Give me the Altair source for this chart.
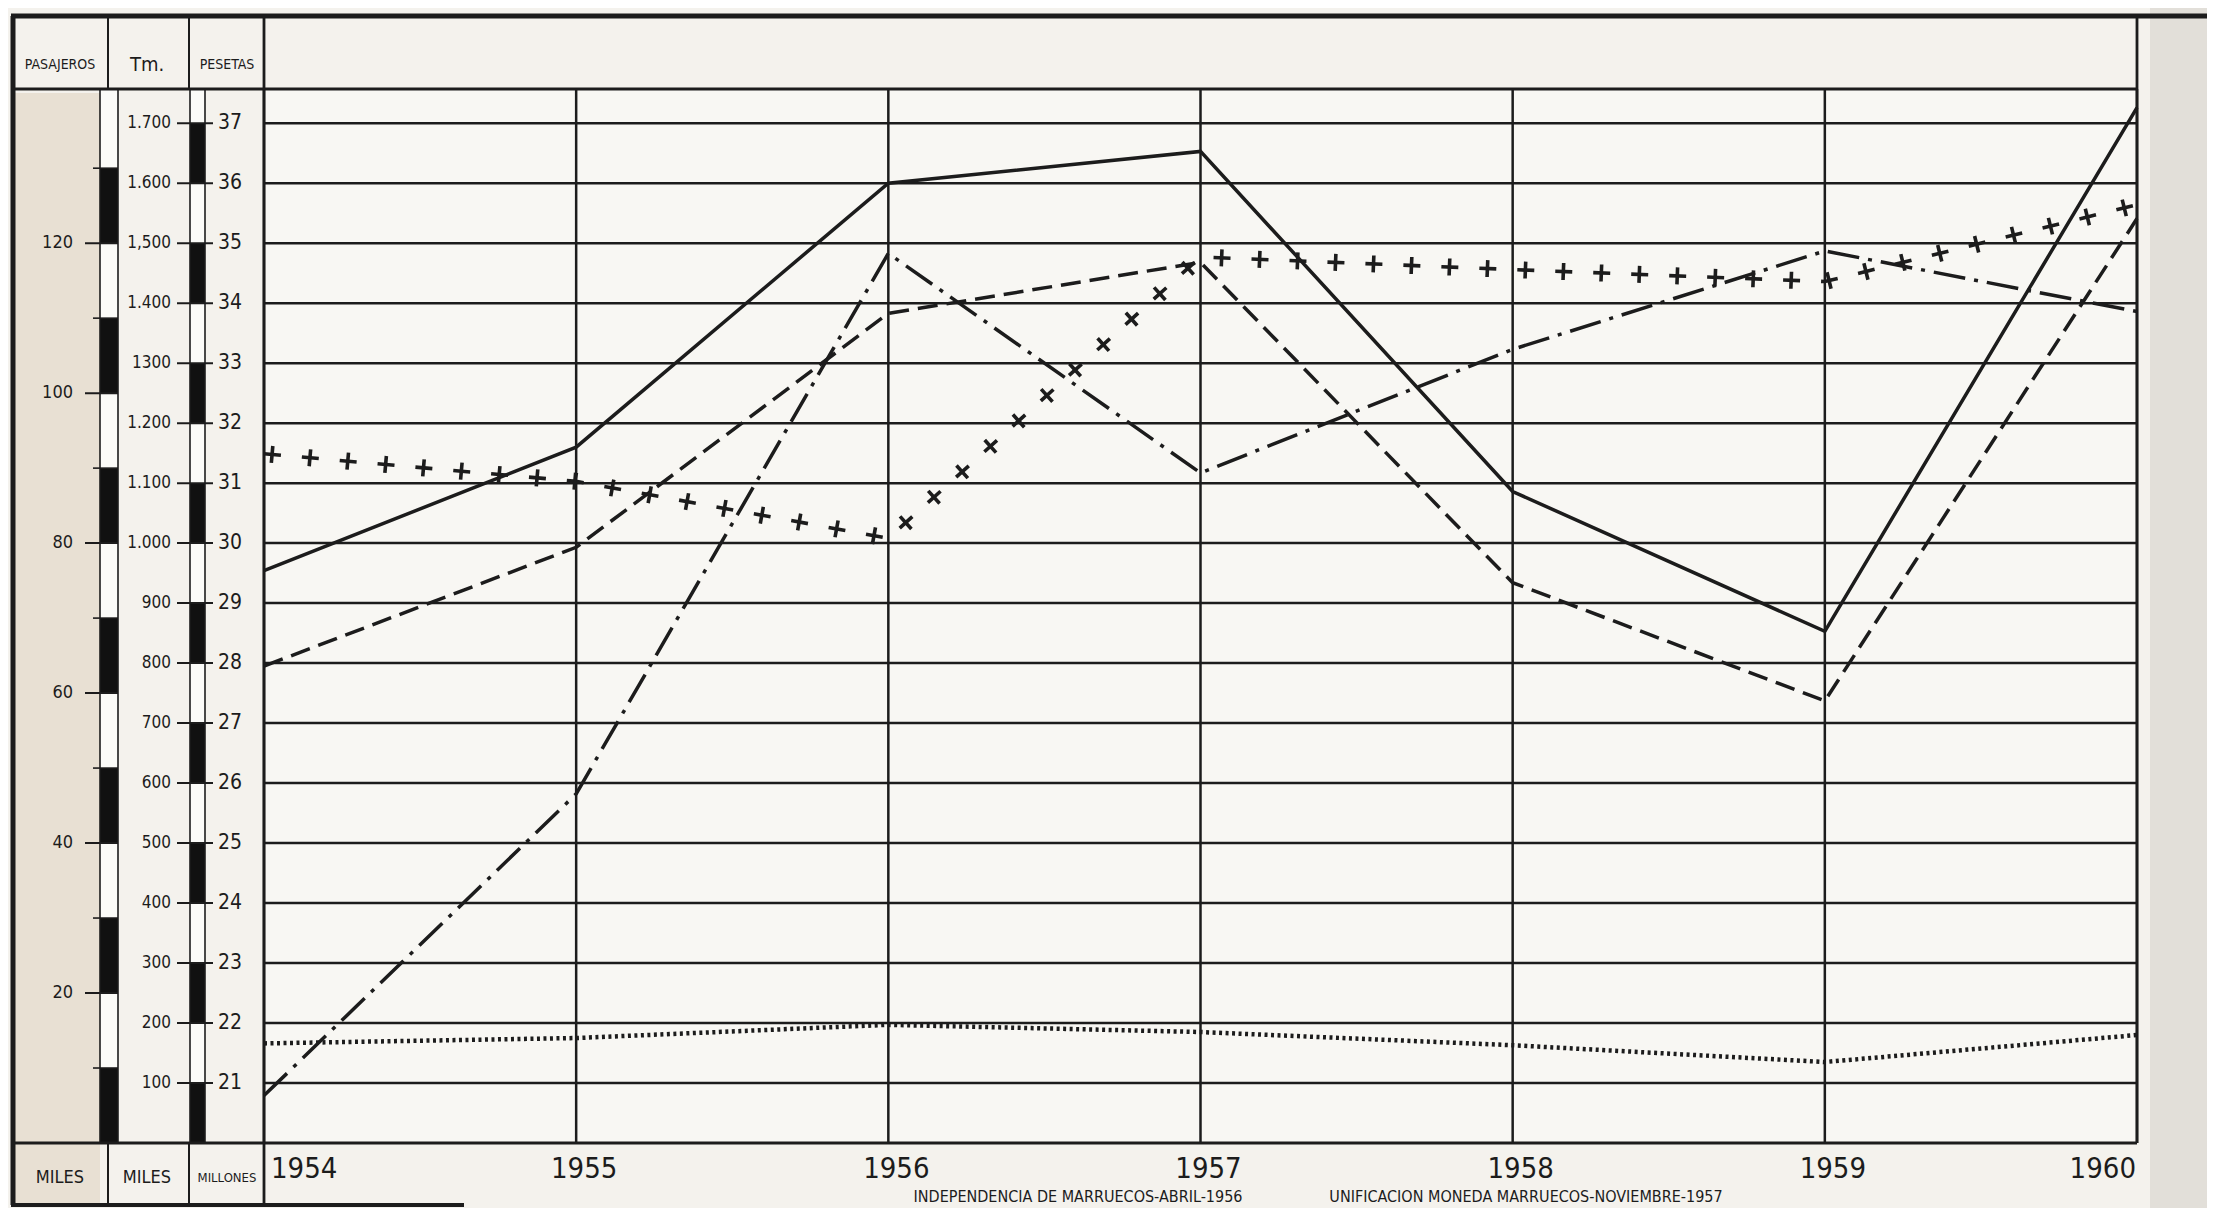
import altair as alt
import pandas as pd

# ---------------- data ----------------
years = [1954, 1955, 1956, 1957, 1958, 1959, 1960]
serie_continua = [954, 1160, 1600, 1653, 1086, 853, 1726]
serie_trazos = [795, 993, 1383, 1468, 934, 737, 1541]
serie_trazo_punto = [79, 582, 1483, 1117, 1323, 1487, 1386]
serie_cruces = [1149, 1103, 1008, 1477, 1456, 1436, 1564]
serie_punteada = [166, 175, 197, 185, 163, 135, 180]

tm_ticks = [100, 200, 300, 400, 500, 600, 700, 800, 900, 1000,
            1100, 1200, 1300, 1400, 1500, 1600, 1700]
tm_labels = ["100", "200", "300", "400", "500", "600", "700", "800", "900",
             "1.000", "1.100", "1.200", "1300", "1.400", "1,500", "1.600", "1.700"]
pas_ticks = [20, 40, 60, 80, 100, 120]
pas_minor = [10, 30, 50, 70, 90, 110, 130]
pts_ticks = [21, 22, 23, 24, 25, 26, 27, 28, 29, 30, 31, 32, 33, 34, 35, 36, 37]
pas_black_lo = [0, 20, 40, 60, 80, 100, 120]
pts_black_lo = [20, 22, 24, 26, 28, 30, 32, 34, 36]
year_labels = ["1954", "1955", "1956", "1957", "1958", "1959", "1960"]

# ---------------- tables ----------------
series_names = ["continua", "trazos", "trazo_punto", "cruces", "punteada"]
series_vals = [serie_continua, serie_trazos, serie_trazo_punto, serie_cruces, serie_punteada]
rows = []
for name, vals in zip(series_names, series_vals):
    for yr, v in zip(years, vals):
        rows.append({"year": yr, "valor": v, "serie": name})
df = pd.DataFrame(rows)

df_tm = pd.DataFrame({"tm": tm_ticks, "lab": tm_labels})
df_pas = pd.DataFrame({"p": pas_ticks, "lab": [str(v) for v in pas_ticks]})
df_pas_minor = pd.DataFrame({"p": pas_minor})
df_pts = pd.DataFrame({"s": pts_ticks, "lab": [str(v) for v in pts_ticks]})
df_pas_black = pd.DataFrame({"lo": pas_black_lo, "hi": [v + 10 for v in pas_black_lo]})
df_pts_black = pd.DataFrame({"lo": pts_black_lo, "hi": [v + 1 for v in pts_black_lo]})
df_years = pd.DataFrame({"year": years, "lab": year_labels})
one = pd.DataFrame({"a": [0]})

# ---------------- layout ----------------
W, H = 1873, 1054
TOP_T = 1757
INK = "#1c1c1c"
FONT = "DejaVu Sans Condensed, Liberation Sans Narrow, DejaVu Sans, sans-serif"

x_scale = alt.Scale(domain=[1954, 1960], nice=False, zero=False)
tm_scale = alt.Scale(domain=[0, TOP_T], nice=False, zero=False)
pas_scale = alt.Scale(domain=[0, TOP_T / 12.5], nice=False, zero=False)
pts_scale = alt.Scale(domain=[20, 20 + TOP_T / 100], nice=False, zero=False)

X = alt.X("year:Q", scale=x_scale, axis=None)


def rect(x1, x2, y1, y2, color):
    return alt.Chart(one).mark_rect(color=color).encode(
        x=alt.value(x1), x2=alt.value(x2), y=alt.value(y1), y2=alt.value(y2))


def vline(x, y1, y2, w=2.5, color=INK):
    return alt.Chart(one).mark_rule(color=color, strokeWidth=w).encode(
        x=alt.value(x), y=alt.value(y1), y2=alt.value(y2))


def hline(y, x1, x2, w=2.5, color=INK):
    return alt.Chart(one).mark_rule(color=color, strokeWidth=w).encode(
        y=alt.value(y), x=alt.value(x1), x2=alt.value(x2))


def label(txt, x, y, size, align="center"):
    return alt.Chart(one).mark_text(text=txt, font=FONT, fontSize=size, color=INK,
                                    align=align, baseline="middle").encode(
        x=alt.value(x), y=alt.value(y))


layers = []
# backgrounds
layers.append(rect(0, W, 0, H, "#f8f7f3"))
layers.append(rect(-249, -164, 4, 1114, "#e8e0d3"))
layers.append(rect(-164, -146, 0, H, "#fbfbf8"))
layers.append(rect(-74, -59, 0, H, "#fbfbf8"))
layers.append(rect(1886, 1943, -81, 1120, "#e2dfd9"))

# ruler black segments
layers.append(alt.Chart(df_pas_black).mark_rect(color="#111111").encode(
    x=alt.value(-164), x2=alt.value(-146),
    y=alt.Y("lo:Q", scale=pas_scale, axis=None), y2="hi:Q"))
layers.append(alt.Chart(df_pts_black).mark_rect(color="#111111").encode(
    x=alt.value(-74), x2=alt.value(-59),
    y=alt.Y("lo:Q", scale=pts_scale, axis=None), y2="hi:Q"))

# ruler borders
for xx in (-164, -146, -74, -59):
    layers.append(vline(xx, 0, H, w=1.6))

# grid
layers.append(alt.Chart(df_tm).mark_rule(color=INK, strokeWidth=2.5).encode(
    y=alt.Y("tm:Q", scale=tm_scale, axis=None), x=alt.value(0), x2=alt.value(W)))
layers.append(alt.Chart(df_years).mark_rule(color=INK, strokeWidth=2.5).encode(
    x=X, y=alt.value(0), y2=alt.value(H)))

# frame lines
layers.append(hline(0, -251, W, w=2.8))
layers.append(hline(H, -251, W, w=2.8))
layers.append(vline(0, -73, 1116, w=2.8))
layers.append(vline(W, -73, H, w=2.8))
layers.append(vline(-251, -73, 1116, w=5))
layers.append(hline(-73, -253, 1943, w=5))
layers.append(hline(1116, -253, 200, w=4))
# header / footer dividers
layers.append(vline(-156, -73, 0, w=2))
layers.append(vline(-75, -73, 0, w=2))
layers.append(vline(-156, H, 1116, w=2))
layers.append(vline(-75, H, 1116, w=2))

# ticks on the left scales
layers.append(alt.Chart(df_pas).mark_rule(color=INK, strokeWidth=2).encode(
    y=alt.Y("p:Q", scale=pas_scale, axis=None), x=alt.value(-179), x2=alt.value(-146)))
layers.append(alt.Chart(df_pas_minor).mark_rule(color=INK, strokeWidth=1.6).encode(
    y=alt.Y("p:Q", scale=pas_scale, axis=None), x=alt.value(-171), x2=alt.value(-146)))
layers.append(alt.Chart(df_pts).mark_rule(color=INK, strokeWidth=2).encode(
    y=alt.Y("s:Q", scale=pts_scale, axis=None), x=alt.value(-87), x2=alt.value(-51)))

# tick labels
layers.append(alt.Chart(df_pas).mark_text(font=FONT, fontSize=18, color=INK, align="right",
                                          baseline="middle").encode(
    y=alt.Y("p:Q", scale=pas_scale, axis=None), x=alt.value(-191), text="lab:N"))
layers.append(alt.Chart(df_tm).mark_text(font=FONT, fontSize=17, color=INK, align="right",
                                         baseline="middle").encode(
    y=alt.Y("tm:Q", scale=tm_scale, axis=None), x=alt.value(-93), text="lab:N"))
layers.append(alt.Chart(df_pts).mark_text(font=FONT, fontSize=21, color=INK, align="left",
                                          baseline="middle").encode(
    y=alt.Y("s:Q", scale=pts_scale, axis=None), x=alt.value(-46), text="lab:N"))

# header / footer texts
layers.append(label("PASAJEROS", -204, -24, 14))
layers.append(label("Tm.", -117, -24, 20))
layers.append(label("PESETAS", -37, -24, 14))
layers.append(label("MILES", -204, 1089, 18))
layers.append(label("MILES", -117, 1089, 18))
layers.append(label("MILLONES", -37, 1089, 13))

# year labels
ylab = dict(font=FONT, fontSize=29, color=INK, baseline="middle")
YL = 1080
layers.append(alt.Chart(df_years).transform_filter(alt.datum.year == 1954).mark_text(
    align="left", dx=7, **ylab).encode(x=X, y=alt.value(YL), text="lab:N"))
layers.append(alt.Chart(df_years).transform_filter(
    (alt.datum.year > 1954) & (alt.datum.year < 1960)).mark_text(
    align="center", dx=8, **ylab).encode(x=X, y=alt.value(YL), text="lab:N"))
layers.append(alt.Chart(df_years).transform_filter(alt.datum.year == 1960).mark_text(
    align="right", dx=-1, **ylab).encode(x=X, y=alt.value(YL), text="lab:N"))

# event notes
layers.append(label("INDEPENDENCIA DE MARRUECOS-ABRIL-1956", 814, 1108, 16))
layers.append(label("UNIFICACION MONEDA MARRUECOS-NOVIEMBRE-1957", 1262, 1108, 16))

# ---------------- series ----------------
def serie(name, **kw):
    return alt.Chart(df).transform_filter(alt.datum.serie == name).mark_line(
        color=INK, **kw).encode(x=X, y=alt.Y("valor:Q", scale=tm_scale, axis=None))


layers.append(serie("punteada", strokeWidth=4.5, strokeDash=[3, 3.5]))
layers.append(serie("continua", strokeWidth=3.5))
layers.append(serie("trazos", strokeWidth=3.5, strokeDash=[20, 9]))
layers.append(serie("trazo_punto", strokeWidth=3.5, strokeDash=[32, 9, 4, 9]))
layers.append(serie("cruces", strokeWidth=3.6, strokeDash=[17, 21]))
layers.append(serie("cruces", strokeWidth=17, strokeDash=[3.6, 34.4], strokeDashOffset=31.7))

chart = alt.layer(*layers).resolve_scale(y="independent").properties(
    width=W, height=H,
    autosize=alt.AutoSizeParams(type="none"),
    padding={"left": 256, "top": 81, "right": 70, "bottom": 65},
    background="#f4f2ed",
).configure_view(stroke=None)

chart.save("out.html", embed_options={"renderer": "svg", "actions": False})
